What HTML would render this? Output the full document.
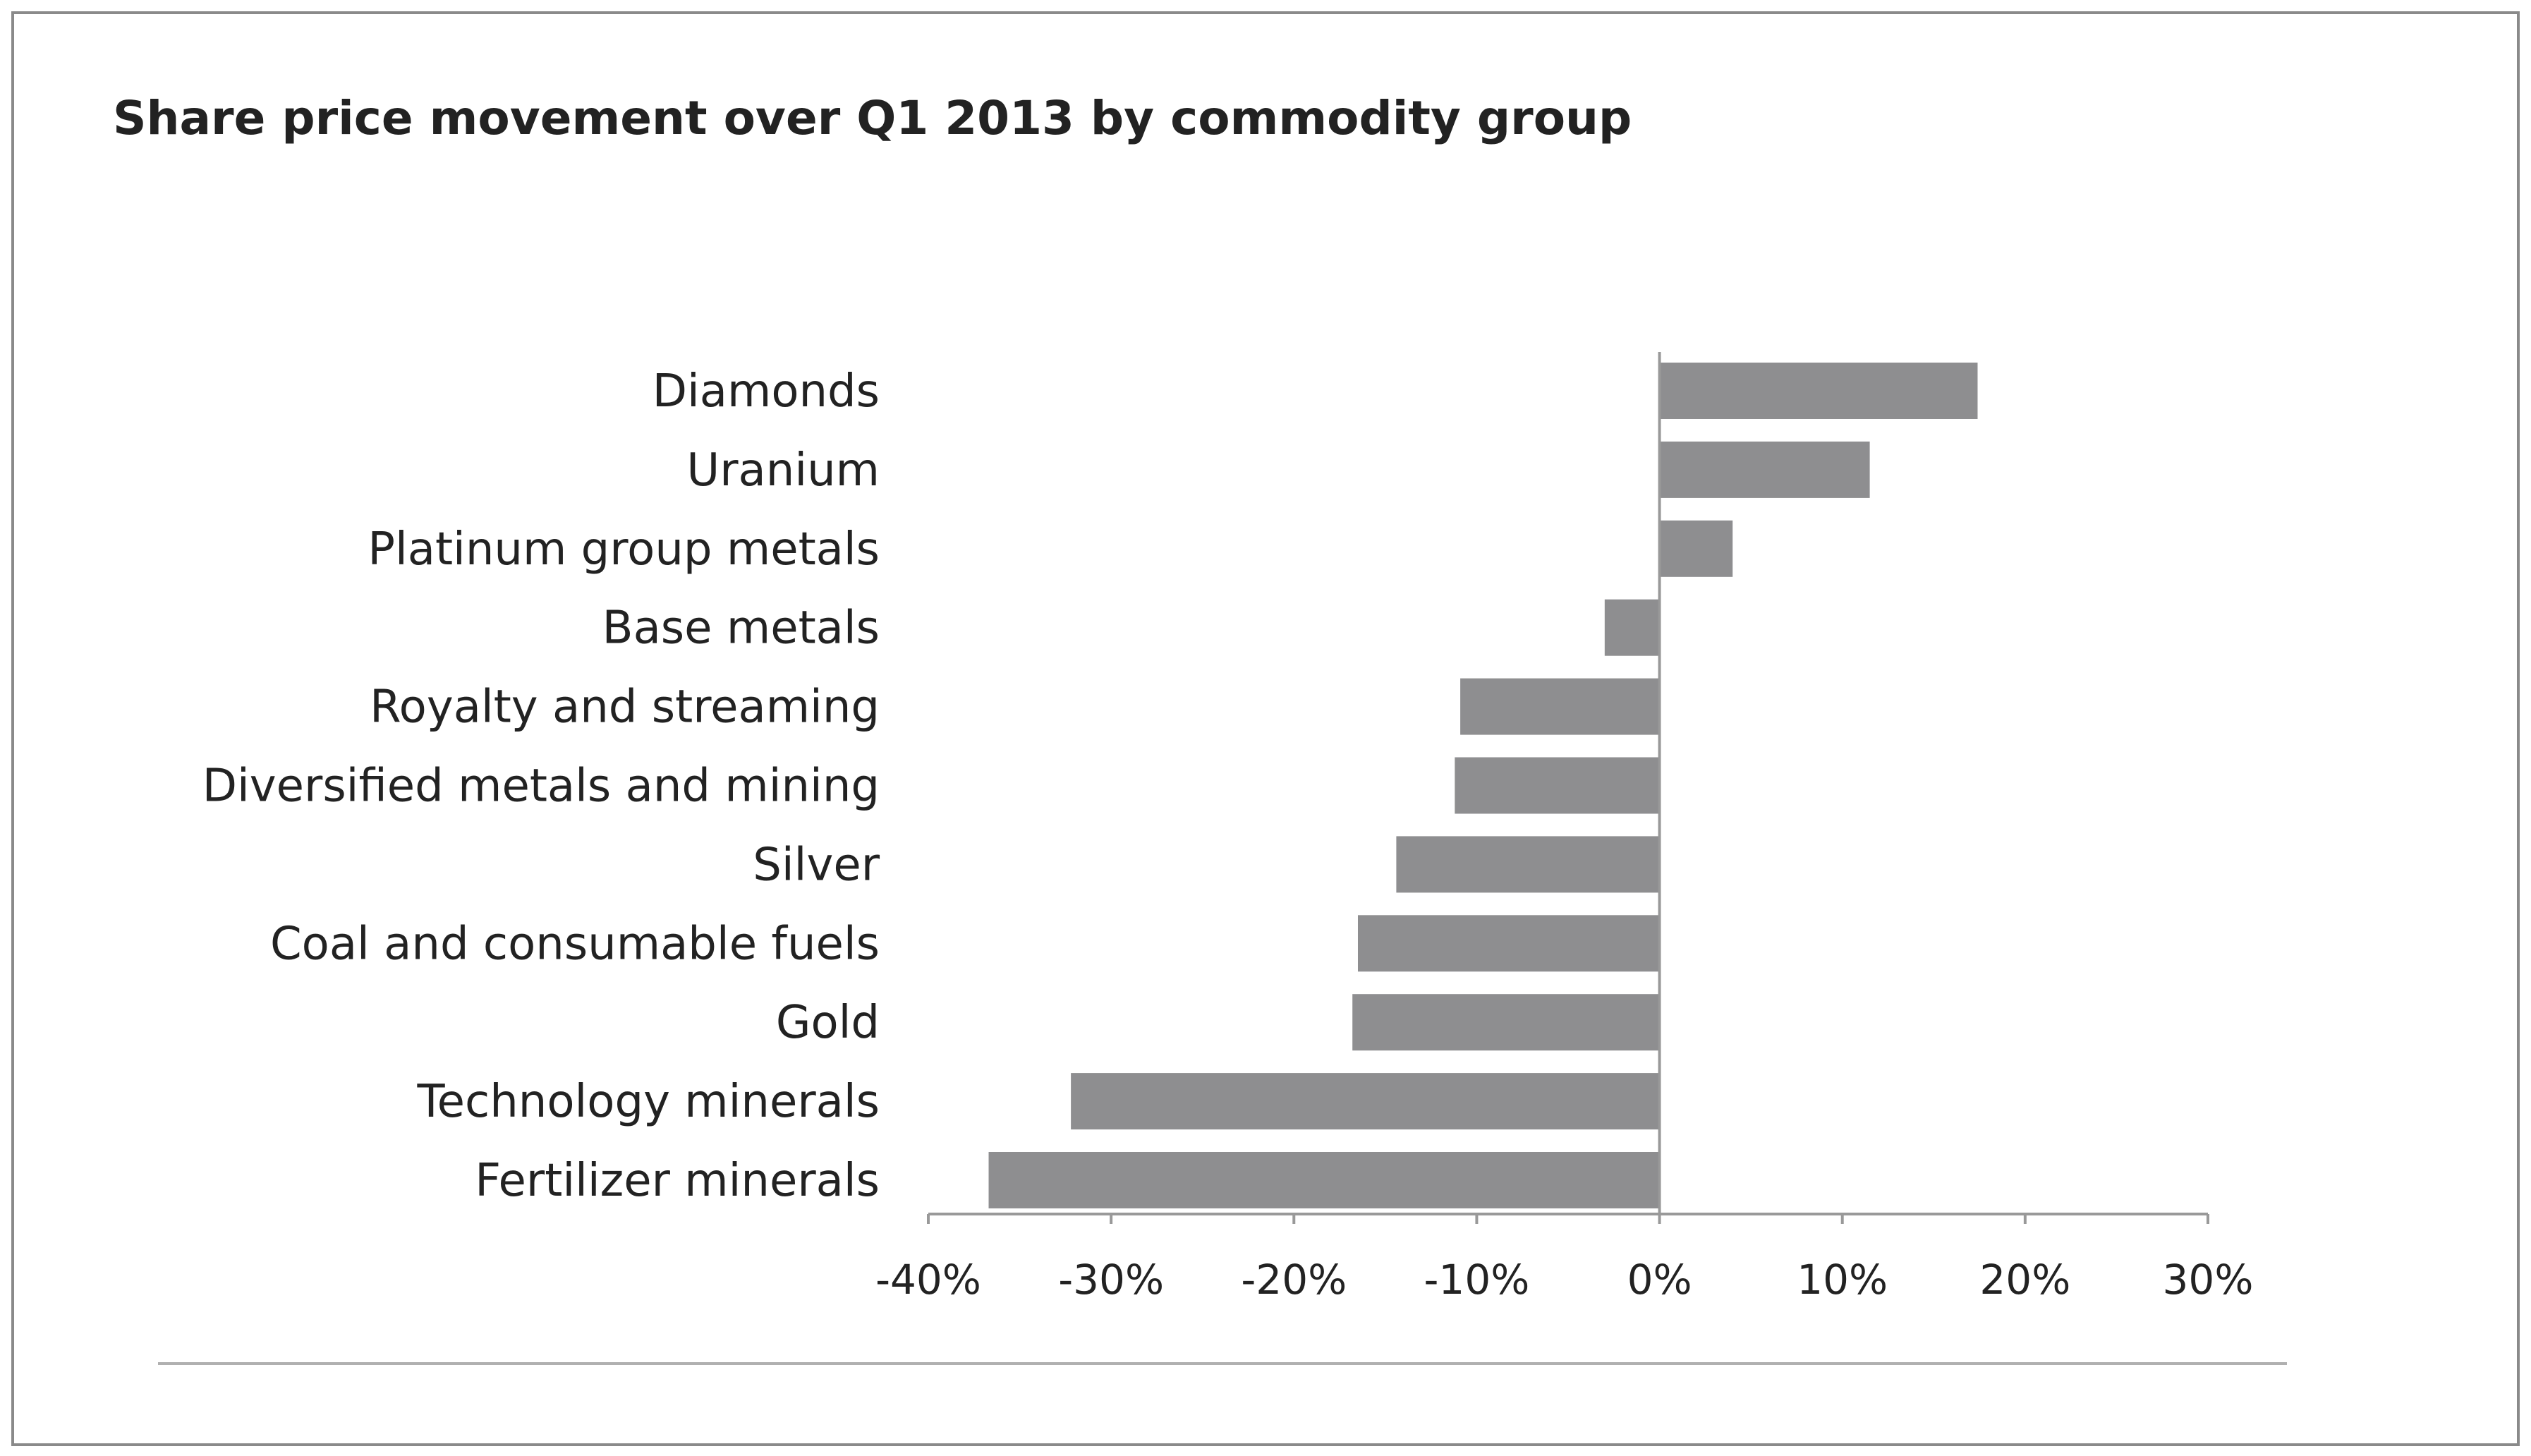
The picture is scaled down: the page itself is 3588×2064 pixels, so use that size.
<!DOCTYPE html>
<html><head><meta charset="utf-8"><style>
body{margin:0;background:#fff;}
svg{display:block;font-family:"DejaVu Sans","Liberation Sans",sans-serif;}
</style></head><body>
<svg id="chart" width="3588" height="2064" viewBox="0 0 3588 2064">
<rect x="18" y="18" width="3552" height="2030" fill="#fff" stroke="#8a8a8a" stroke-width="4"/>
<text x="160" y="190" font-size="66" font-weight="bold" fill="#222">Share price movement over Q1 2013 by commodity group</text>
<g id="plot"></g>
<line x1="224" y1="1933" x2="3242" y2="1933" stroke="#b0b0b0" stroke-width="4"/>
</svg>
<script>
const categories=["Diamonds","Uranium","Platinum group metals","Base metals","Royalty and streaming","Diversified metals and mining","Silver","Coal and consumable fuels","Gold","Technology minerals","Fertilizer minerals"];
const values=[17.4,11.5,4.0,-3.0,-10.9,-11.2,-14.4,-16.5,-16.8,-32.2,-36.7];
const ticks=[-40,-30,-20,-10,0,10,20,30];
const tickLabels=["-40%","-30%","-20%","-10%","0%","10%","20%","30%"];
const NS="http://www.w3.org/2000/svg";
const g=document.getElementById('plot');
const x0=1316,x1=3130,vmin=-40,vmax=30;
const xs=v=>x0+(v-vmin)/(vmax-vmin)*(x1-x0);
const firstCenter=554,band=111.9,barH=80,axisY=1721;
const ys=i=>firstCenter+i*band;
function mk(t,a){const e=document.createElementNS(NS,t);for(const k in a)e.setAttribute(k,a[k]);g.appendChild(e);return e;}
values.forEach((v,i)=>{
 const r=mk('rect',{x:Math.min(xs(0),xs(v)),y:ys(i)-barH/2,width:Math.abs(xs(v)-xs(0)),height:barH,fill:'#8e8e90'});
 
 
 const t=mk('text',{x:1247,y:ys(i)+22,'font-size':64,'text-anchor':'end',fill:'#222'});
 t.textContent=categories[i];
 
 
});
const zl=mk('line',{x1:xs(0),y1:499,x2:xs(0),y2:axisY,stroke:'#999','stroke-width':4});


const ax=mk('line',{x1:x0,y1:axisY,x2:x1,y2:axisY,stroke:'#999','stroke-width':4});


ticks.forEach((v,i)=>{
 const tk=mk('line',{x1:xs(v),y1:axisY,x2:xs(v),y2:axisY+14,stroke:'#999','stroke-width':4});
 
 
 const t=mk('text',{x:xs(v),y:1834,'font-size':58,'text-anchor':'middle',fill:'#222'});
 t.textContent=tickLabels[i];
 
 
});
</script>
</body></html>
